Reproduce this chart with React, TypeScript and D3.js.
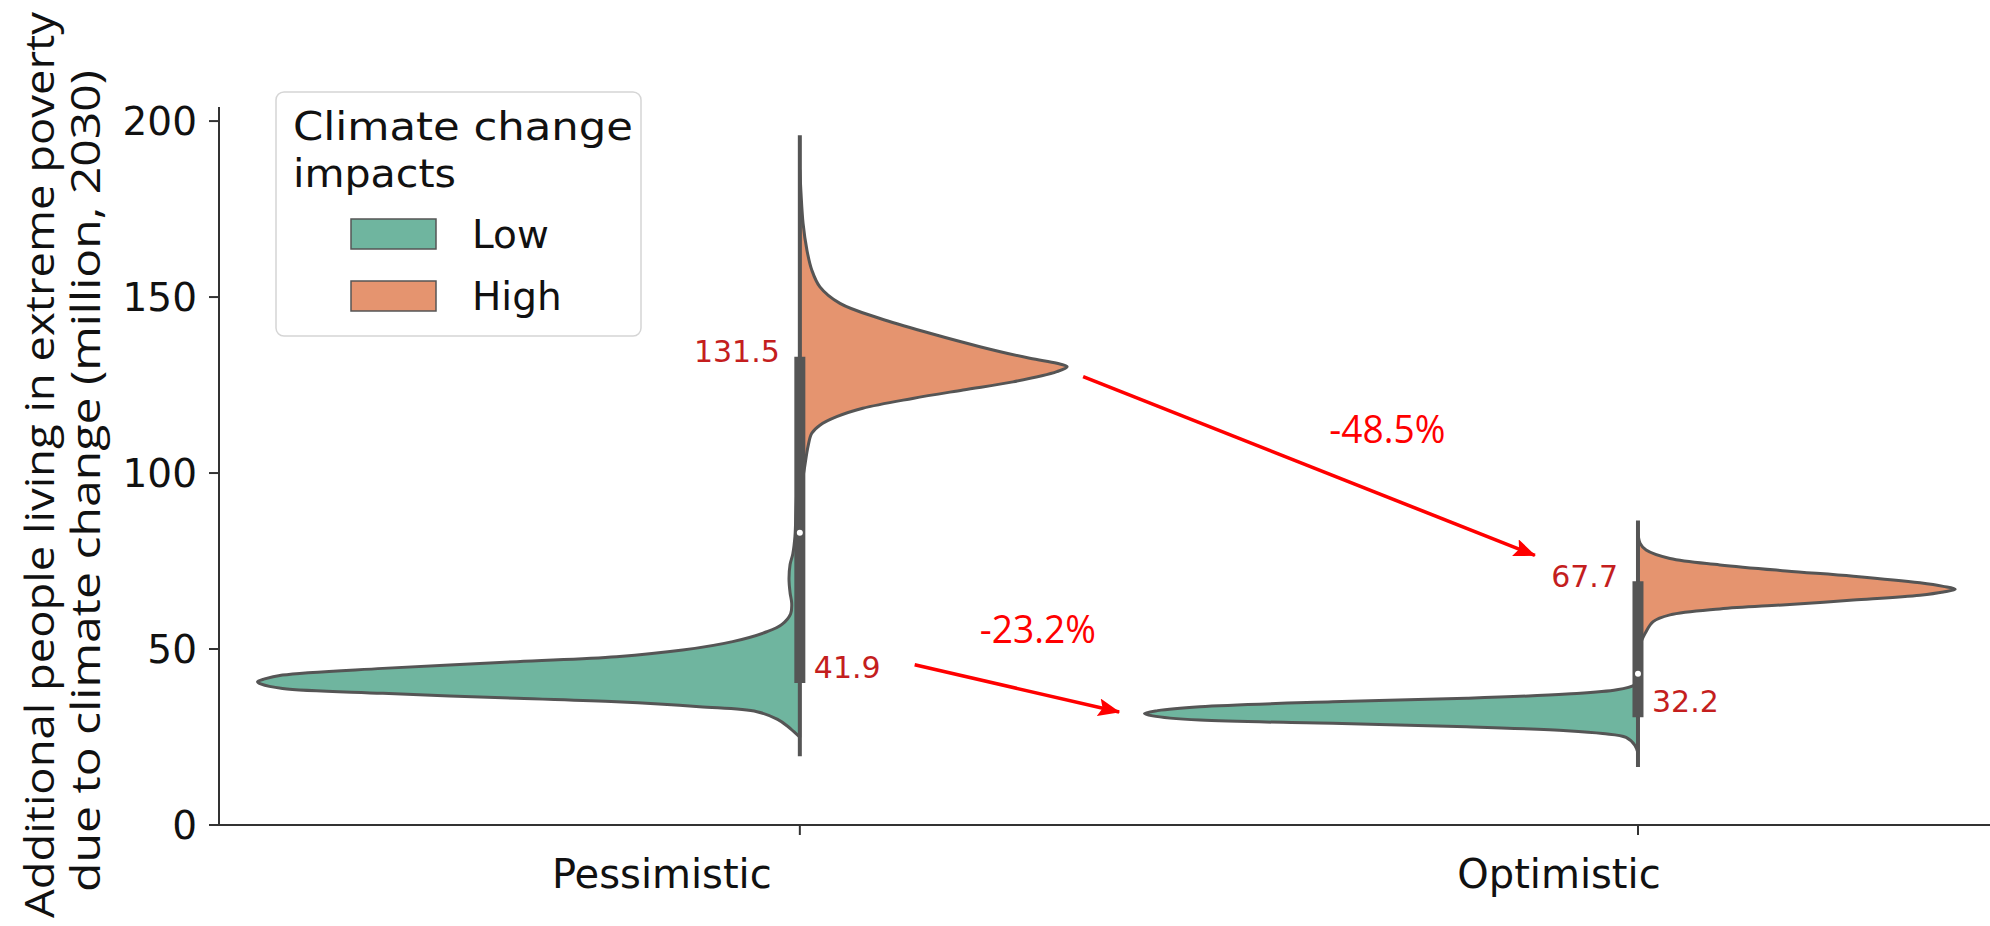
import React from "react";
import * as d3 from "d3";

// Scenario categories on the x axis and hue levels of the split violins
const categories = ["Pessimistic", "Optimistic"];
const hueLevels = ["Low", "High"];
const hueColors = ["#6fb59f", "#e5946f"];

// Kernel density profiles: [value (million people), relative density]
const pessimisticLow: [number, number][] = [
  [25.0, 0], [26.5, 0.011], [28.0, 0.022], [30.0, 0.041], [32.2, 0.079],
  [33.6, 0.185], [35.0, 0.338], [36.0, 0.522], [37.4, 0.769], [38.8, 0.954], [40.0, 0.993],
  [40.7, 1.0], [41.5, 0.987], [42.6, 0.954], [44.5, 0.769], [46.4, 0.522], [47.8, 0.338],
  [49.7, 0.216], [52.1, 0.124], [54.9, 0.061], [57.0, 0.033], [60.0, 0.017], [63.0, 0.015],
  [66.0, 0.018], [70.0, 0.02], [74.0, 0.018], [77.0, 0.013], [82.0, 0.009], [90.0, 0.007],
  [100.0, 0.004], [106.0, 0],
];
const pessimisticHigh: [number, number][] = [
  [95.0, 0], [100.0, 0.007], [107.5, 0.015], [111.3, 0.022], [113.6, 0.037], [116.0, 0.068],
  [118.4, 0.116], [121.2, 0.208], [123.6, 0.301], [125.9, 0.393], [128.8, 0.474], [130.2, 0.493],
  [131.2, 0.474], [132.6, 0.424], [135.9, 0.332], [139.7, 0.24], [143.9, 0.148], [148.2, 0.074],
  [152.9, 0.037], [157.7, 0.022], [163.4, 0.013], [170.9, 0.006], [180.0, 0.002], [186.0, 0],
];
const optimisticLow: [number, number][] = [
  [20.5, 0], [22.7, 0.006], [24.9, 0.022], [26.0, 0.065], [26.8, 0.131], [27.9, 0.316],
  [28.9, 0.563], [29.8, 0.808], [31.0, 0.895], [31.7, 0.91], [32.5, 0.886], [33.6, 0.808],
  [35.0, 0.563], [36.0, 0.316], [37.2, 0.131], [38.4, 0.039], [39.8, 0.006], [41.0, 0],
];
const optimisticHigh: [number, number][] = [
  [50.0, 0], [54.4, 0.013], [57.8, 0.028], [59.7, 0.059], [61.4, 0.151], [62.6, 0.273],
  [63.9, 0.397], [65.3, 0.52], [66.2, 0.563], [67.0, 0.585], [67.8, 0.563], [68.8, 0.52],
  [70.7, 0.397], [72.2, 0.273], [73.9, 0.151], [75.7, 0.059], [78.1, 0.015], [80.0, 0.004],
  [83.0, 0],
];
const densities = [
  [pessimisticLow, pessimisticHigh],
  [optimisticLow, optimisticHigh],
];

// Inner box statistics per scenario (both hue levels pooled)
const quartile1 = [41.9, 32.2];
const quartile3 = [131.5, 67.7];
const medians = [83.0, 43.0];
const whiskerLow = [19.5, 16.5];
const whiskerHigh = [196.0, 86.5];

// Y axis ticks
const yTicks = [0, 50, 100, 150, 200];

// Percentage-change annotations: arrow from (x0, v0) to (x1, v1) in category/value units
const changeLabels = ["-48.5%", "-23.2%"];
const arrowStart: [number, number][] = [[0.338, 127.4], [0.137, 45.5]];
const arrowEnd: [number, number][] = [[0.877, 76.6], [0.381, 32.1]];
const changeLabelAt: [number, number][] = [[0.701, 108.5], [0.284, 51.8]];

const W = 1990;
const H = 926;
const LEFT = 219;
const BOTTOM = 825;
const TOP = 107;

export default function App() {
  const y = d3.scaleLinear().domain([0, 204]).range([BOTTOM, TOP]);
  const x = d3.scaleLinear().domain([-0.693, 1.42]).range([LEFT, W]);
  const step = x(1) - x(0);
  const maxD = d3.max(densities.flat().flatMap((arr) => arr.map((d) => d[1]))) || 1;
  const w = d3.scaleLinear().domain([0, maxD]).range([0, 0.647 * step]);

  const outlineColor = "#555555";
  const annotColor = "#c41e1e";

  const violinPath = (ci: number, hi: number) => {
    const cx = x(ci);
    const sign = hi === 0 ? -1 : 1;
    const pts = densities[ci][hi];
    const line = d3
      .line<[number, number]>()
      .x((d) => cx + sign * w(d[1]))
      .y((d) => y(d[0]))
      .curve(d3.curveCatmullRom.alpha(0.5));
    const first = pts[0];
    const last = pts[pts.length - 1];
    return line(pts) + `L${cx},${y(last[0])}L${cx},${y(first[0])}Z`;
  };

  const catLabelShift = [-138, -79];

  return (
    <svg width={W} height={H} viewBox={`0 0 ${W} ${H}`}
      style={{ display: "block", position: "absolute", left: 0, top: 0, background: "#fff" }}>
      <defs>
        <marker id="arrowHead" viewBox="0 0 22 18" refX="21" refY="9" markerWidth="22" markerHeight="18"
          orient="auto" markerUnits="userSpaceOnUse">
          <path d="M0,0 L22,9 L0,18 L4,9 z" fill="#ff0000" />
        </marker>
      </defs>

      {/* Violins */}
      {categories.map((c, ci) =>
        hueLevels.map((h, hi) => (
          <path key={`${c}-${h}`} d={violinPath(ci, hi)} fill={hueColors[hi]} stroke={outlineColor}
            strokeWidth={3} strokeLinejoin="round" />
        ))
      )}

      {/* Inner boxes */}
      {categories.map((c, ci) => (
        <g key={`box-${c}`}>
          <line x1={x(ci)} x2={x(ci)} y1={y(whiskerLow[ci])} y2={y(whiskerHigh[ci])} stroke={outlineColor}
            strokeWidth={4} />
          <line x1={x(ci)} x2={x(ci)} y1={y(quartile1[ci])} y2={y(quartile3[ci])} stroke={outlineColor}
            strokeWidth={11} strokeLinecap="square" />
          <circle cx={x(ci)} cy={y(medians[ci])} r={3} fill="#ffffff" />
        </g>
      ))}

      {/* Quartile value labels */}
      {categories.map((c, ci) => (
        <g key={`ql-${c}`} fontFamily="DejaVu Sans" fontSize={30} fill={annotColor}>
          <text x={x(ci) - 20} y={y(quartile3[ci])} textAnchor="end">{quartile3[ci].toFixed(1)}</text>
          <text x={x(ci) + 14} y={y(quartile1[ci])} textAnchor="start">{quartile1[ci].toFixed(1)}</text>
        </g>
      ))}

      {/* Change arrows */}
      {changeLabels.map((lab, i) => (
        <g key={`arrow-${i}`}>
          <line x1={x(arrowStart[i][0])} y1={y(arrowStart[i][1])} x2={x(arrowEnd[i][0])} y2={y(arrowEnd[i][1])}
            stroke="#ff0000" strokeWidth={3.6} markerEnd="url(#arrowHead)" />
          <text x={x(changeLabelAt[i][0])} y={y(changeLabelAt[i][1])} textAnchor="middle" fontFamily="Open Sans"
            fontSize={38} fill="#ff0000" textLength={116} lengthAdjust="spacingAndGlyphs">{lab}</text>
        </g>
      ))}

      {/* Axes */}
      <line x1={LEFT} x2={LEFT} y1={TOP} y2={BOTTOM} stroke="#333" strokeWidth={2} />
      <line x1={LEFT} x2={W} y1={BOTTOM} y2={BOTTOM} stroke="#333" strokeWidth={2} />
      {yTicks.map((t) => (
        <g key={`yt-${t}`}>
          <line x1={LEFT - 10} x2={LEFT} y1={y(t)} y2={y(t)} stroke="#333" strokeWidth={2} />
          <text x={LEFT - 22} y={y(t)} dy="0.36em" textAnchor="end" fontFamily="DejaVu Sans" fontSize={39}
            fill="#111">{t}</text>
        </g>
      ))}
      {categories.map((c, ci) => (
        <g key={`xt-${c}`}>
          <line x1={x(ci)} x2={x(ci)} y1={BOTTOM} y2={BOTTOM + 10} stroke="#333" strokeWidth={2} />
          <text x={x(ci) + catLabelShift[ci]} y={888} textAnchor="middle" fontFamily="DejaVu Sans" fontSize={40}
            fill="#111">{c}</text>
        </g>
      ))}

      {/* Y axis title */}
      <g fontFamily="Open Sans" fontSize={40} fill="#111">
        <text transform="translate(53.5,465) rotate(-90)" textAnchor="middle" textLength={906}
          lengthAdjust="spacingAndGlyphs">Additional people living in extreme poverty</text>
        <text transform="translate(100,481) rotate(-90)" textAnchor="middle" textLength={822}
          lengthAdjust="spacingAndGlyphs">due to climate change (million, 2030)</text>
      </g>

      {/* Legend */}
      <g fontFamily="DejaVu Sans" fill="#111">
        <rect x={276} y={92} width={365} height={244} rx={8} fill="#fff" fillOpacity={0.85} stroke="#d5d5d5"
          strokeWidth={1.5} />
        <text x={293} y={140} fontSize={39} textLength={340} lengthAdjust="spacingAndGlyphs">Climate change</text>
        <text x={293} y={187} fontSize={39} textLength={163} lengthAdjust="spacingAndGlyphs">impacts</text>
        {hueLevels.map((h, hi) => (
          <g key={`leg-${h}`}>
            <rect x={351} y={219 + hi * 62} width={85} height={30} fill={hueColors[hi]} stroke={outlineColor}
              strokeWidth={1.5} />
            <text x={472} y={248 + hi * 62} fontSize={39}>{h}</text>
          </g>
        ))}
      </g>
    </svg>
  );
}
